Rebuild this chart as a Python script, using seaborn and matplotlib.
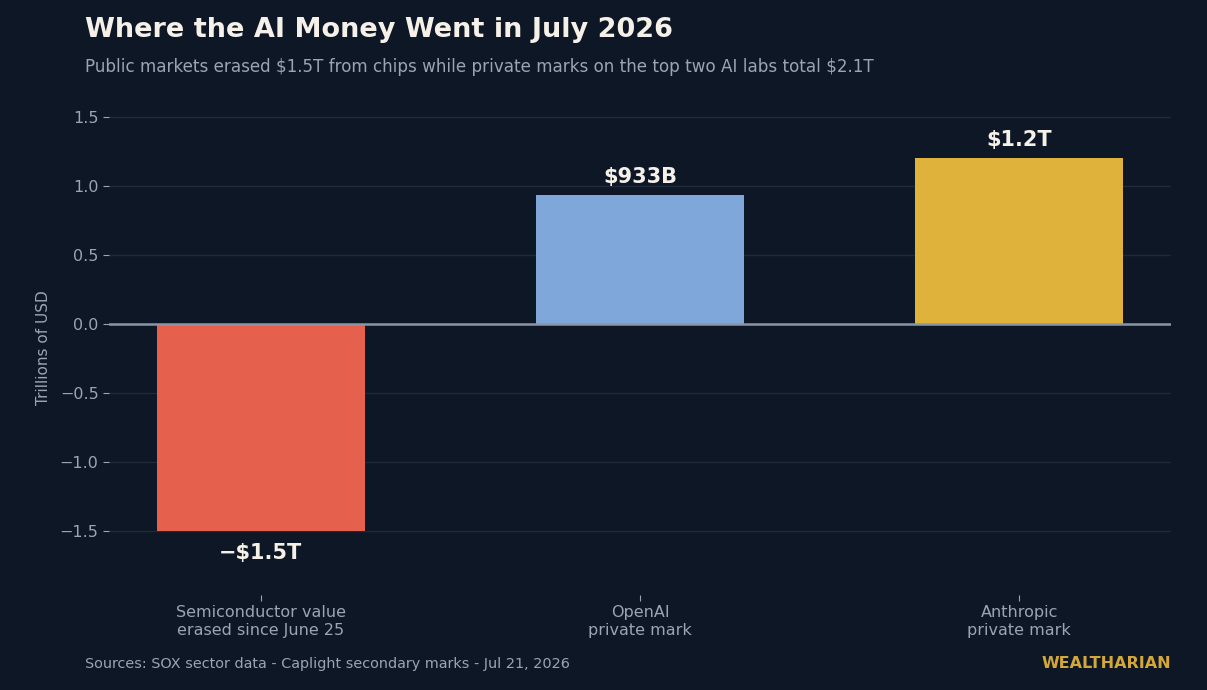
import matplotlib
matplotlib.use("Agg")
import matplotlib.pyplot as plt
import seaborn as sns
import pandas as pd

categories = ["Semiconductor value\nerased since June 25", "OpenAI\nprivate mark", "Anthropic\nprivate mark"]
values = [-1.5, 0.933, 1.2]
value_labels = ["\u2212\\$1.5T", "\\$933B", "\\$1.2T"]
colors = ["#e5614e", "#7fa7d9", "#dfb23c"]

BG = "#0e1725"
GRID = "#1e2a3b"
MUTED = "#9aa5b4"
TXT = "#f5f1e8"

sns.set_theme(style="dark")
plt.rcParams['font.family'] = ['DejaVu Sans']

fig = plt.figure(figsize=(12.07, 6.9), dpi=100, facecolor=BG)
ax = fig.add_axes([0.0903, 0.1377, 0.8799, 0.7173])
ax.set_facecolor(BG)

df = pd.DataFrame({"cat": categories, "val": values})
sns.barplot(data=df, x="cat", y="val", hue="cat", palette=colors, legend=False,
            width=0.548, saturation=1, ax=ax, zorder=3, edgecolor="none", linewidth=0)

ax.set_xlim(-0.4, 2.4)
ax.set_ylim(-1.96, 1.62)
ax.set_yticks([-1.5, -1.0, -0.5, 0.0, 0.5, 1.0, 1.5])
ax.yaxis.grid(True, color=GRID, linewidth=1, zorder=0)
ax.xaxis.grid(False)
ax.axhline(0, color="#8a96a8", linewidth=1.8, zorder=4)
for s in ax.spines.values():
    s.set_visible(False)

ax.tick_params(axis="both", colors=MUTED, labelsize=11.5, length=4, width=0.8,
               bottom=True, left=True)
ax.tick_params(axis="x", pad=3.5)
ax.tick_params(axis="y", pad=3.5)
ax.set_xlabel("")
ax.set_ylabel("Trillions of USD", color=MUTED, fontsize=11, labelpad=6)

for i, (v, lab) in enumerate(zip(values, value_labels)):
    if v >= 0:
        ax.annotate(lab, (i, v), xytext=(0, 5.5), textcoords="offset points",
                    ha="center", va="bottom", fontsize=15, fontweight="bold", color=TXT)
    else:
        ax.annotate(lab, (i, v), xytext=(0, -8), textcoords="offset points",
                    ha="center", va="top", fontsize=15, fontweight="bold", color=TXT)

fig.text(85/1207, 1 - 30/690, "Where the AI Money Went in July 2026", fontsize=19.5,
         fontweight="bold", color=TXT, ha="left", va="center")
fig.text(85/1207, 1 - 67/690, "Public markets erased \\$1.5T from chips while private marks on the top two AI labs total \\$2.1T",
         fontsize=12.1, color=MUTED, ha="left", va="center")
fig.text(85/1207, 1 - 664/690, "Sources: SOX sector data - Caplight secondary marks - Jul 21, 2026",
         fontsize=10.4, color=MUTED, ha="left", va="center")
fig.text(1171/1207, 1 - 664/690, "WEALTHARIAN", fontsize=11.5, fontweight="bold",
         color="#d4a838", ha="right", va="center")

fig.savefig("out.png", dpi=100, facecolor=BG)
